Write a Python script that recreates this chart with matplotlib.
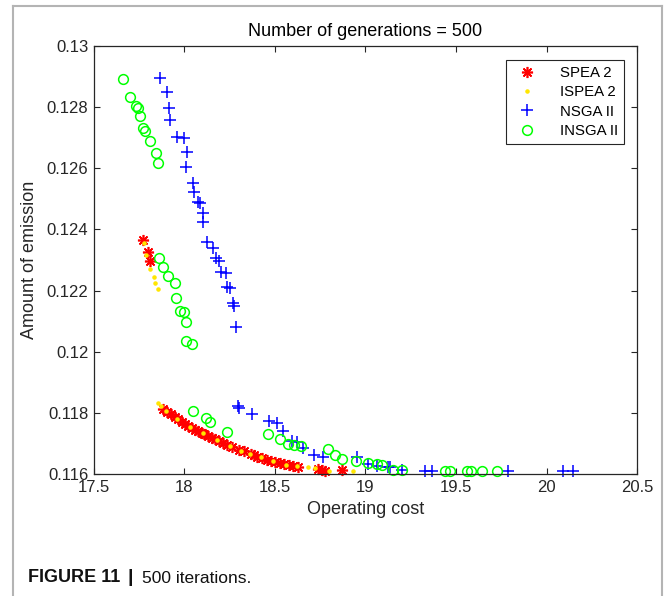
import numpy as np
import matplotlib.pyplot as plt
from matplotlib.lines import Line2D

# values
spea2_x = [17.772, 17.796, 17.812,
           17.883, 17.905, 17.925, 17.948, 17.965, 17.985, 18.005, 18.020,
           18.040, 18.058, 18.075, 18.095, 18.110, 18.130, 18.150, 18.170,
           18.190, 18.210, 18.235, 18.260, 18.300, 18.330, 18.365, 18.385,
           18.400, 18.430, 18.455, 18.480, 18.500, 18.525, 18.550, 18.575,
           18.600, 18.625, 18.740, 18.760, 18.775, 18.870]
spea2_y = [0.12365, 0.12327, 0.12298,
           0.11812, 0.11803, 0.11795, 0.11785, 0.11779, 0.11771, 0.11763, 0.11757,
           0.11751, 0.11745, 0.11741, 0.11735, 0.11731, 0.11725, 0.11719, 0.11714,
           0.11707, 0.11701, 0.11695, 0.11689, 0.11680, 0.11674, 0.11666, 0.11661,
           0.11657, 0.11652, 0.11647, 0.11643, 0.11640, 0.11635, 0.11632, 0.11629,
           0.11626, 0.11624, 0.11616, 0.11613, 0.11611, 0.11612]

ispea2_x = [17.778, 17.785, 17.809, 17.831, 17.837, 17.852,
            17.855, 17.870, 17.900, 17.960, 18.030, 18.100, 18.180, 18.250,
            18.310, 18.360, 18.420, 18.490, 18.560, 18.620, 18.684, 18.720,
            18.800, 18.931]
ispea2_y = [0.12355, 0.12316, 0.12270, 0.12243, 0.12226, 0.12204,
            0.11831, 0.11822, 0.11805, 0.11780, 0.11754, 0.11733, 0.11711, 0.11692,
            0.11675, 0.11665, 0.11654, 0.11641, 0.11631, 0.11625, 0.11622, 0.11618,
            0.11611, 0.11610]

nsga2_x = [17.865, 17.902, 17.914, 17.920, 17.957, 17.997, 18.012, 18.008,
           18.045, 18.052, 18.076, 18.085, 18.100, 18.100, 18.126, 18.155,
           18.174, 18.192, 18.200, 18.229, 18.233, 18.251, 18.266, 18.275,
           18.285,
           18.294, 18.303, 18.371, 18.469, 18.509, 18.542, 18.592, 18.619,
           18.656, 18.715, 18.767, 18.951, 19.015, 19.062, 19.126, 19.135,
           19.199, 19.329, 19.365, 19.789, 20.089, 20.144]
nsga2_y = [0.12894, 0.12848, 0.12798, 0.12758, 0.12704, 0.12700, 0.12654, 0.12603,
           0.12553, 0.12524, 0.12489, 0.12486, 0.12455, 0.12425, 0.12360, 0.12339,
           0.12306, 0.12298, 0.12262, 0.12256, 0.12213, 0.12207, 0.12158, 0.12150,
           0.12082,
           0.11822, 0.11815, 0.11796, 0.11774, 0.11766, 0.11741, 0.11708, 0.11706,
           0.11684, 0.11662, 0.11655, 0.11655, 0.11633, 0.11626, 0.11622, 0.11624,
           0.11613, 0.11609, 0.11609, 0.11609, 0.11609, 0.11609]

insga2_x = [17.662, 17.699, 17.732, 17.745, 17.754, 17.772, 17.782, 17.809,
            17.843, 17.852,
            17.861, 17.879, 17.910, 17.947, 17.953, 17.975, 17.997, 18.006,
            18.008, 18.043,
            18.049, 18.117, 18.141, 18.233, 18.463, 18.528, 18.573, 18.605,
            18.642, 18.794, 18.831, 18.868, 18.948, 19.015, 19.065, 19.090,
            19.154, 19.199, 19.439, 19.467, 19.563, 19.581, 19.642, 19.725]
insga2_y = [0.12891, 0.12834, 0.12804, 0.12797, 0.12770, 0.12733, 0.12723, 0.12690,
            0.12650, 0.12617,
            0.12306, 0.12277, 0.12249, 0.12224, 0.12175, 0.12133, 0.12131, 0.12098,
            0.12035, 0.12024,
            0.11806, 0.11784, 0.11769, 0.11738, 0.11730, 0.11713, 0.11698, 0.11695,
            0.11692, 0.11681, 0.11662, 0.11648, 0.11643, 0.11635, 0.11633, 0.11629,
            0.11613, 0.11613, 0.11611, 0.11611, 0.11611, 0.11611, 0.11611, 0.11611]

x_ticks = [17.5, 18, 18.5, 19, 19.5, 20, 20.5]
x_tick_labels = ['17.5', '18', '18.5', '19', '19.5', '20', '20.5']
y_ticks = [0.116, 0.118, 0.12, 0.122, 0.124, 0.126, 0.128, 0.13]
y_tick_labels = ['0.116', '0.118', '0.12', '0.122', '0.124', '0.126', '0.128', '0.13']

plt.rcParams['font.family'] = ['Liberation Sans', 'DejaVu Sans']
dark = '#262626'

fig = plt.figure(figsize=(6.68, 5.96), dpi=100)
ax = fig.add_axes([0.1407, 0.2047, 0.8129, 0.7181])

ax.plot(spea2_x, spea2_y, linestyle='none', marker=(8, 2, 0), markersize=8,
        markeredgewidth=1.2, color=(1, 0, 0), label='SPEA 2', clip_on=False)
ax.plot(ispea2_x, ispea2_y, linestyle='none', marker='.', markersize=4.5,
        color=(1, 0.9, 0), label='ISPEA 2', clip_on=False)
ax.plot(nsga2_x, nsga2_y, linestyle='none', marker='+', markersize=9,
        markeredgewidth=1.1, color=(0, 0, 1), label='NSGA II', clip_on=False)
ax.plot(insga2_x, insga2_y, linestyle='none', marker='o', markersize=7,
        markerfacecolor='none', markeredgewidth=1.1, color=(0, 1, 0),
        label='INSGA II', clip_on=False)

ax.set_xlim(17.5, 20.5)
ax.set_ylim(0.116, 0.13)
ax.set_xticks(x_ticks)
ax.set_xticklabels(x_tick_labels)
ax.set_yticks(y_ticks)
ax.set_yticklabels(y_tick_labels)
ax.tick_params(direction='in', top=True, right=True, length=4, width=0.8,
               color=dark, labelcolor=dark, labelsize=12, pad=4)
for s in ax.spines.values():
    s.set_color(dark)
    s.set_linewidth(0.9)

ax.set_title('Number of generations = 500', fontsize=13, color='black', pad=7)
ax.set_xlabel('Operating cost', fontsize=13, color=dark, labelpad=5)
ax.set_ylabel('Amount of emission', fontsize=13, color=dark, labelpad=6)

leg = ax.legend(loc='upper right', bbox_to_anchor=(0.976, 0.967),
                borderaxespad=0, fancybox=False, fontsize=10.8,
                handlelength=2.0, handletextpad=1.2, labelspacing=0.35,
                borderpad=0.4, framealpha=1)
leg.get_frame().set_edgecolor(dark)
leg.get_frame().set_linewidth(0.8)

# light gray frame around the figure panel
fw, fh = 668.0, 596.0
frame_col = '#b4b4b4'
fig.add_artist(Line2D([13 / fw, 13 / fw], [0, 1 - 6 / fh], color=frame_col, lw=1.5))
fig.add_artist(Line2D([13 / fw, 662 / fw], [1 - 6 / fh, 1 - 6 / fh], color=frame_col, lw=1.5))
fig.add_artist(Line2D([662 / fw, 662 / fw], [0, 1 - 6 / fh], color=frame_col, lw=1.5))

# caption: bold part, then bar, then normal text, chained one after the other
cap1 = fig.text(28 / fw, 1 - 582 / fh, 'FIGURE 11', fontsize=13, fontweight='bold',
                color='#111111', va='baseline', ha='left')
ax.annotate('|', xy=(1, 0), xycoords=cap1, xytext=(5, 0),
            textcoords='offset points', fontsize=14, fontweight='bold',
            color='#111111', va='bottom', ha='left', annotation_clip=False)
ax.annotate('500 iterations.', xy=(1, 0), xycoords=cap1, xytext=(16, 0),
            textcoords='offset points', fontsize=12.5, color='#111111',
            va='bottom', ha='left', annotation_clip=False)

fig.savefig('out.png', dpi=100)
